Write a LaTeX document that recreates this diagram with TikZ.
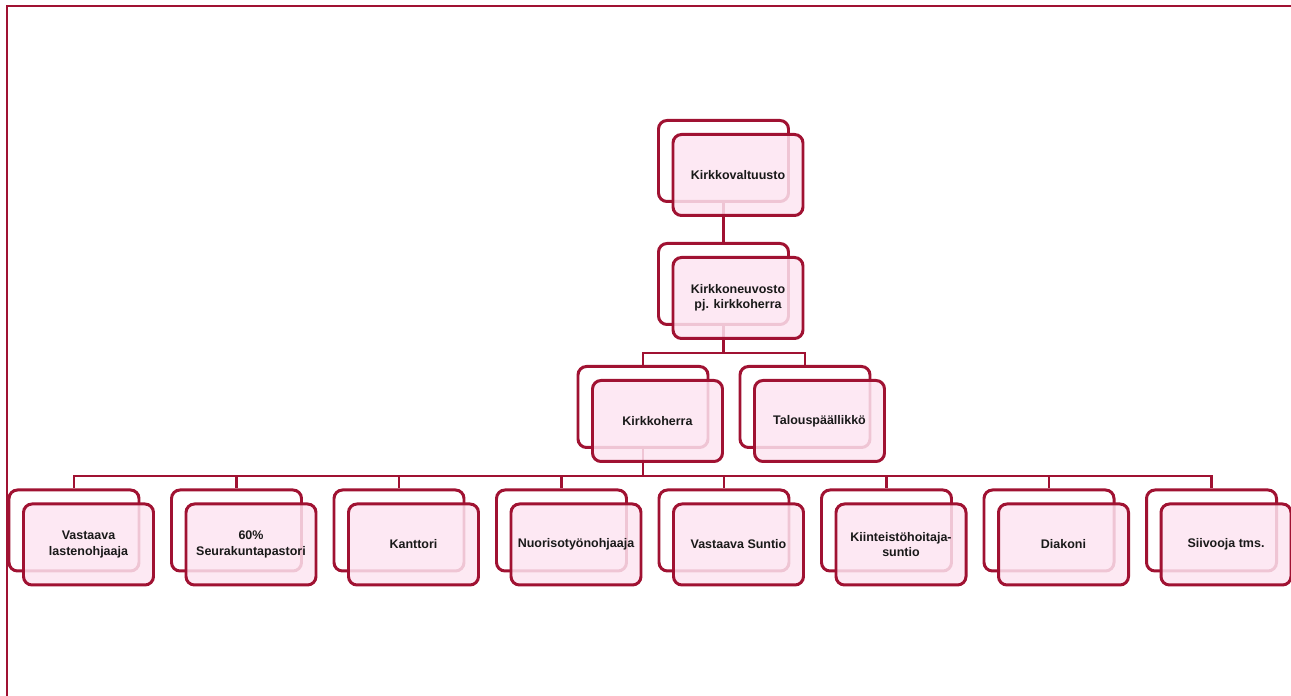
\documentclass[tikz,border=0pt]{standalone}
\usepackage{fontspec}
\setmainfont{Liberation Sans}
\usepackage{tikz}

\definecolor{orgred}{RGB}{160,18,50}
\definecolor{orgpink}{RGB}{253,229,241}

\tikzset{
  backbox/.style={draw=orgred, line width=1.7pt, rounded corners=0.17cm,
    minimum width=2.6cm, minimum height=1.62cm, fill=white},
  frontbox/.style={draw=orgred, line width=1.7pt, rounded corners=0.17cm,
    minimum width=2.6cm, minimum height=1.62cm, fill=orgpink, fill opacity=0.85,
    text opacity=1, align=center, text=black!90,
    font=\fontsize{7.1}{8.6}\selectfont\bfseries},
  link/.style={draw=orgred, line width=1.6pt}
}

\begin{document}
\begin{tikzpicture}
\useasboundingbox (0,0) rectangle (25.82,13.92);
% frame
\draw[orgred, line width=1.1pt] (0.14,0) -- (0.14,13.80) -- (25.82,13.80);

% back boxes
\node[backbox] (A) at (14.47,10.70) {};
\node[backbox] (B) at (14.47,8.24) {};
\node[backbox] (C1) at (12.86,5.78) {};
\node[backbox] (C2) at (16.10,5.78) {};
\node[backbox] (D1) at (1.48,3.31) {};
\node[backbox] (D2) at (4.73,3.31) {};
\node[backbox] (D3) at (7.98,3.31) {};
\node[backbox] (D4) at (11.23,3.31) {};
\node[backbox] (D5) at (14.48,3.31) {};
\node[backbox] (D6) at (17.73,3.31) {};
\node[backbox] (D7) at (20.98,3.31) {};
\node[backbox] (D8) at (24.23,3.31) {};

% connectors
\draw[link] (A) -- (B);
\draw[link] (B.south) -- ++(0,-0.54) -| (C1.north);
\draw[link] (B.south) -- ++(0,-0.54) -| (C2.north);
\draw[link] (C1.south) -- ++(0,-0.54) -| (D1.north);
\draw[link] (C1.south) -- ++(0,-0.54) -| (D2.north);
\draw[link] (C1.south) -- ++(0,-0.54) -| (D3.north);
\draw[link] (C1.south) -- ++(0,-0.54) -| (D4.north);
\draw[link] (C1.south) -- ++(0,-0.54) -| (D5.north);
\draw[link] (C1.south) -- ++(0,-0.54) -| (D6.north);
\draw[link] (C1.south) -- ++(0,-0.54) -| (D7.north);
\draw[link] (C1.south) -- ++(0,-0.54) -| (D8.north);

% front boxes
\node[frontbox] (a) at (14.76,10.42) {Kirkkovaltuusto};
\node[frontbox] (b) at (14.76,7.96) {Kirkkoneuvosto\\pj. kirkkoherra};
\node[frontbox] (c1) at (13.15,5.50) {Kirkkoherra};
\node[frontbox] (c2) at (16.39,5.50) {Talouspäällikkö};
\node[frontbox] (d1) at (1.77,3.03) {Vastaava\\lastenohjaaja};
\node[frontbox] (d2) at (5.02,3.03) {60\%\\Seurakuntapastori};
\node[frontbox] (d3) at (8.27,3.03) {Kanttori};
\node[frontbox] (d4) at (11.52,3.03) {Nuorisotyönohjaaja};
\node[frontbox] (d5) at (14.77,3.03) {Vastaava Suntio};
\node[frontbox] (d6) at (18.02,3.03) {Kiinteistöhoitaja-\\suntio};
\node[frontbox] (d7) at (21.27,3.03) {Diakoni};
\node[frontbox] (d8) at (24.52,3.03) {Siivooja tms.};
\end{tikzpicture}
\end{document}
